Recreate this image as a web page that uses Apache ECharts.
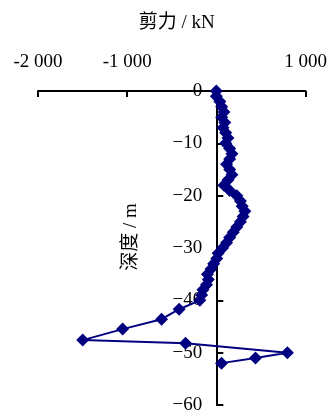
<!DOCTYPE html>
<html>
<head>
<meta charset="utf-8">
<script src="https://cdn.jsdelivr.net/npm/echarts@6/dist/echarts.min.js"></script>
<style>
html, body { margin: 0; padding: 0; background: #fff; }
#main { width: 328px; height: 410px; }
</style>
</head>
<body>
<div id="main"></div>
<script>
// 剪力 (kN) 与 深度 (m)
var shear = [0, 0, 40, 60, 85, 60, 95, 75, 105, 130, 105, 150, 175, 150, 115, 150, 175, 130, 85, 150,
	230, 270, 290, 320, 300, 270, 230, 190, 150, 115, 70, 20, 5, -30, -60, -100, -90, -110, -150, -165,
	-185, -417, -614, -1051, -1499, -345, 797, 439, 58];
var depth = [0, -1, -2, -3, -4, -5, -6, -7, -8, -9, -10, -11, -12, -13, -14, -15, -16, -17, -18, -19,
	-20, -21, -22, -23, -24, -25, -26, -27, -28, -29, -30, -31, -32, -33, -34, -35, -36, -37, -38, -39,
	-40, -41.7, -43.6, -45.5, -47.6, -48.2, -50, -51, -52];
var xTicks = { '-2000': '-2 000', '-1000': '-1 000', '0': '', '1000': '1 000' };

var serif = 'Liberation Serif, Noto Sans CJK SC';
var pts = [];
for (var i = 0; i < shear.length; i++) pts.push([shear[i], depth[i]]);

var gridLeft = 38, gridRight = 22.5;
// 纵轴放在 x = 0 处
var yOffset = -(328 - gridLeft - gridRight) * 2000 / 3000;

var myChart = echarts.init(document.getElementById('main'));
var option = {
	animation: false,
	grid: { left: gridLeft, right: gridRight, top: 91, bottom: 5, containLabel: false, outerBoundsMode: 'none' },
	xAxis: {
		type: 'value',
		position: 'top',
		min: -2000, max: 1000, interval: 1000,
		name: '剪力 / kN',
		nameLocation: 'middle',
		nameGap: 58,
		nameTextStyle: { color: '#000', fontSize: 19, fontFamily: serif, padding: [0, 0, 0, 10] },
		splitLine: { show: false },
		axisLine: { onZero: false, lineStyle: { color: '#000', width: 2 } },
		axisTick: { inside: true, length: 6, lineStyle: { color: '#000', width: 2 } },
		axisLabel: {
			color: '#000', fontSize: 19, fontFamily: serif, margin: 19,
			formatter: function (v) { return xTicks[v] !== undefined ? xTicks[v] : v; }
		}
	},
	yAxis: {
		type: 'value',
		position: 'left',
		offset: yOffset,
		min: -60, max: 0, interval: 10,
		splitLine: { show: false },
		axisLine: { onZero: false, lineStyle: { color: '#000', width: 2 } },
		axisTick: { inside: true, length: 7, lineStyle: { color: '#000', width: 2 } },
		axisLabel: {
			color: '#000', fontSize: 19, fontFamily: serif, margin: 14,
			formatter: function (v) { return v === 0 ? '0' : '\u2212' + Math.abs(v); }
		}
	},
	graphic: [{
		type: 'text',
		x: 131, y: 237,
		rotation: Math.PI / 2,
		style: {
			text: '深度 / m',
			fill: '#000',
			font: '19px ' + serif,
			align: 'center',
			verticalAlign: 'middle'
		}
	}],
	series: [{
		type: 'line',
		data: pts,
		symbol: 'diamond',
		symbolSize: 13,
		showAllSymbol: true,
		lineStyle: { color: '#000080', width: 2 },
		itemStyle: { color: '#000080' }
	}]
};
myChart.setOption(option);
</script>
</body>
</html>
